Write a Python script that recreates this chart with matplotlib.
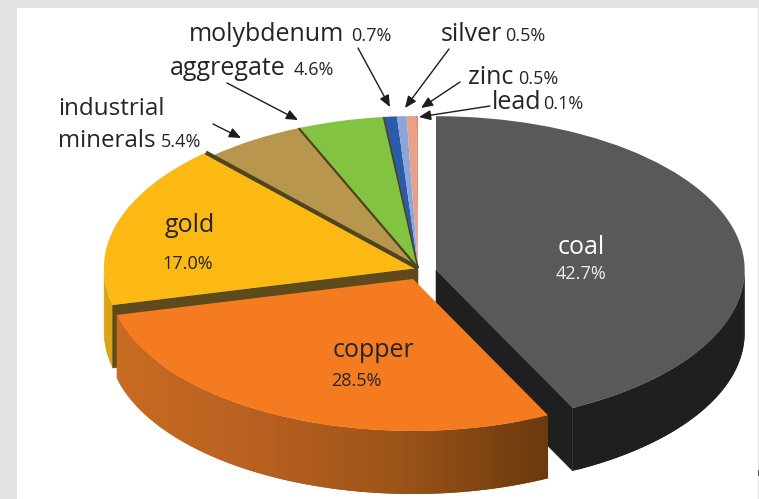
import numpy as np
import matplotlib
matplotlib.use("Agg")
import matplotlib.pyplot as plt
from matplotlib.colors import to_rgb
from matplotlib.patches import Polygon, Rectangle

# pie data, clockwise from the top
minerals = ["coal", "copper", "gold", "industrial minerals", "aggregate",
            "molybdenum", "silver", "zinc", "lead"]
shares = [42.7, 28.5, 17.0, 5.4, 4.6, 0.7, 0.5, 0.5, 0.1]
top_colors = ["#58595b", "#f47b20", "#fdb913", "#b8964e", "#82c341",
              "#2a5caa", "#8aa6d8", "#e8a088", "#d98b72"]

plt.rcParams["font.family"] = ["Open Sans", "DejaVu Sans"]

W, H = 759, 499
CX, CY, RX, RY = 418, 268, 305, 152
DEPTH = 63 / RY

fig = plt.figure(figsize=(W / 100, H / 100), dpi=100, facecolor="#e3e3e3")

# white panel and overlay in pixel coordinates
ax = fig.add_axes([0, 0, 1, 1], zorder=2)
ax.set_xlim(0, W)
ax.set_ylim(H, 0)
ax.axis("off")
ax.patch.set_alpha(0)

bg = fig.add_axes([0, 0, 1, 1], zorder=0)
bg.set_xlim(0, W)
bg.set_ylim(H, 0)
bg.axis("off")
bg.add_patch(Rectangle((17, 8), 741, 491, fc="white", ec="none"))
bg.add_patch(Rectangle((757.5, 470), 1.5, 6, fc="#555555", ec="none"))

pie_ax = fig.add_axes([0, 0, 1, 1], zorder=1)
wedges, _ = pie_ax.pie(shares, colors=top_colors, startangle=90, counterclock=False,
                       wedgeprops={"linewidth": 0})
pie_ax.set_aspect("auto")
pie_ax.set_xlim(-CX / RX, (W - CX) / RX)
pie_ax.set_ylim(-(H - CY) / RY, CY / RY)
pie_ax.patch.set_alpha(0)

# pulled out pieces
wedges[0].set_center((18 / RX, -2 / RY))
wedges[0].set_radius(1.012)
wedges[1].set_center((-5 / RX, -11 / RY))
wedges[2].set_radius(1.03)


def edge_point(w, t):
    cx, cy = w.center
    return cx + w.r * np.cos(np.radians(t)), cy + w.r * np.sin(np.radians(t))


def draw_side(w, color_at, z):
    # outer wall of a slice, only the part facing the viewer
    # strips overlap the next one so no seams show
    for t in np.arange(w.theta1, w.theta2, 1.0):
        mid = min(t + 1.0, w.theta2)
        t2 = min(t + 2.0, w.theta2)
        if np.sin(np.radians((t + mid) / 2)) >= 0:
            continue
        x1, y1 = edge_point(w, t)
        x2, y2 = edge_point(w, t2)
        c = color_at(CX + RX * (x1 + x2) / 2)
        pie_ax.add_patch(Polygon([(x1, y1), (x2, y2), (x2, y2 - DEPTH), (x1, y1 - DEPTH)],
                                 fc=c, ec="none", zorder=z))


def draw_cut(w, t, color, z):
    # flat cut face of a slice
    cx, cy = w.center
    x, y = edge_point(w, t)
    pie_ax.add_patch(Polygon([(cx, cy), (x, y), (x, y - DEPTH), (cx, cy - DEPTH)],
                             fc=color, ec=color, lw=0.4, zorder=z))


def copper_side(px):
    xs = [115, 270, 400, 546]
    cols = np.array([to_rgb(c) for c in ["#c96c22", "#b65f20", "#9c5419", "#6b3a0e"]])
    return tuple(np.interp(px, xs, cols[:, i]) for i in range(3))


draw_side(wedges[0], lambda px: "#1f1f1f", 1)
draw_cut(wedges[0], wedges[0].theta1, "#1f1f1f", 2)
wedges[0].set_zorder(3)

draw_side(wedges[2], lambda px: "#d9a516", 4)
draw_cut(wedges[2], wedges[2].theta2, "#5e4a1a", 5)
for w in wedges[2:]:
    w.set_zorder(6)

draw_side(wedges[1], copper_side, 7)
wedges[1].set_zorder(8)

# dark lines between the top slices
for w, lw in [(wedges[2], 3.0), (wedges[3], 1.6), (wedges[4], 1.2)]:
    cx, cy = w.center
    x, y = edge_point(w, w.theta1)
    pie_ax.plot([cx, x], [cy, y], color="#4f4320", lw=lw, zorder=7, solid_capstyle="butt")

TXT = "#24242c"
big = 18
small = 13


def label(x, y, s, size=big, color=TXT):
    ax.text(x, y, s, fontsize=size, color=color, ha="left", va="baseline")


label(189, 41, "molybdenum")
label(351, 41, "0.7%", small)
label(170, 75, "aggregate")
label(294, 75, "4.6%", small)
label(441, 41, "silver")
label(505, 41, "0.5%", small)
label(468, 84, "zinc")
label(518, 84, "0.5%", small)
label(492, 109, "lead")
label(543, 109, "0.1%", small)
label(58, 115, "industrial", 17.4)
label(58, 147, "minerals", 17.4)
label(161, 147, "5.4%", small)
label(165, 232, "gold")
label(162, 269, "17.0%", small)
label(333, 357, "copper")
label(331, 386, "28.5%", small)
label(558, 254, "coal", color="white")
label(556, 279, "42.7%", small, color="#eeeeee")

# leader arrows (tail, head)
arrows = [((358, 48), (390, 107)), ((449, 49), (405, 108)), ((460, 82), (421, 108)),
          ((490, 106), (419, 117)), ((227, 83), (298, 120)), ((213, 124), (241, 138))]
for tail, head in arrows:
    ax.annotate("", xy=head, xytext=tail,
                arrowprops=dict(arrowstyle="-|>,head_length=0.7,head_width=0.3",
                                color="#1c1c1c", lw=1.0, shrinkA=0, shrinkB=0))

fig.savefig("out.png", dpi=100, facecolor=fig.get_facecolor())
